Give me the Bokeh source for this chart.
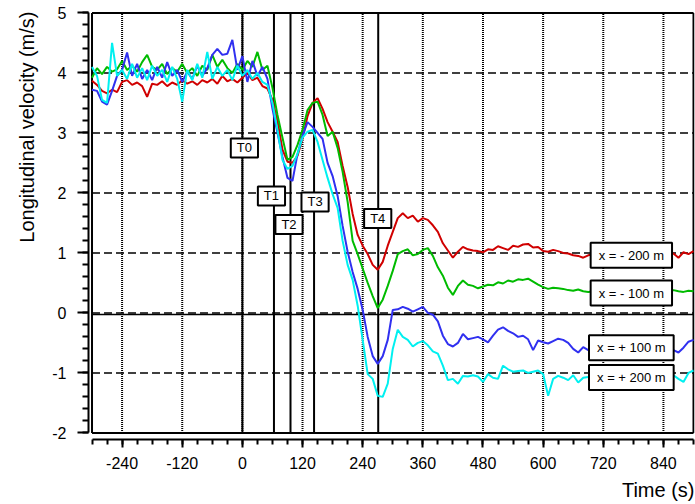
from bokeh.plotting import figure
from bokeh.models import Range1d, FixedTicker, Label, Title
from bokeh.embed import file_html
from bokeh.resources import INLINE

# ---------------- data ----------------
time_s = list(range(-300, 901, 10))

v_minus200 = [
    3.87, 3.80, 3.70, 3.66, 3.72, 3.68, 3.85, 3.88, 3.80, 3.84,
    3.78, 3.60, 3.82, 3.80, 3.86, 3.78, 3.84, 3.80, 3.88, 3.82,
    3.86, 3.80, 3.88, 3.84, 3.90, 3.82, 3.95, 3.86, 3.90, 3.84,
    3.92, 4.00, 3.88, 3.92, 3.78, 3.74, 3.55, 3.20, 2.72, 2.52,
    2.50, 2.62, 2.90, 3.28, 3.50, 3.58, 3.40, 3.18, 3.02, 2.85,
    2.45, 2.10, 1.65, 1.30, 1.12, 0.98, 0.80, 0.72, 0.85, 1.12,
    1.35, 1.58, 1.66, 1.58, 1.62, 1.52, 1.58, 1.55, 1.46, 1.35,
    1.16, 1.04, 0.92, 1.02, 1.10, 1.06, 1.04, 1.03, 1.01, 1.06,
    1.05, 1.11, 1.08, 1.05, 1.12, 1.10, 1.14, 1.15, 1.09, 1.10,
    1.03, 1.02, 1.05, 1.03, 1.00, 0.99, 0.96, 0.95, 0.92, 0.96,
    0.98, 0.97, 1.00, 0.96, 0.99, 0.97, 0.95, 0.98, 1.00, 0.97,
    0.96, 0.99, 0.97, 0.95, 0.98, 0.97, 0.99, 0.92, 1.01, 0.98,
    1.03,
]
v_minus100 = [
    3.92, 4.08, 3.98, 4.10, 4.02, 4.06, 4.20, 4.05, 4.12, 4.02,
    4.18, 4.30, 4.10, 4.05, 4.15, 3.98, 4.08, 4.02, 4.15, 4.00,
    4.08, 3.95, 4.12, 4.05, 4.30, 4.10, 4.22, 4.08, 4.00, 4.15,
    4.05, 4.20, 4.10, 4.35, 4.05, 4.12, 3.75, 3.30, 2.92, 2.55,
    2.60, 2.80, 3.05, 3.38, 3.50, 3.52, 3.30, 2.95, 3.02, 2.75,
    2.35, 1.85, 1.20, 0.98, 0.74, 0.50, 0.28, 0.08, 0.22, 0.45,
    0.70, 0.98, 1.03, 1.06, 0.96, 0.98, 1.05, 1.08, 0.95, 0.76,
    0.62, 0.42, 0.30, 0.45, 0.54, 0.47, 0.45, 0.41, 0.44, 0.47,
    0.46, 0.51, 0.49, 0.54, 0.52, 0.56, 0.55, 0.57, 0.52, 0.47,
    0.43, 0.40, 0.42, 0.41, 0.40, 0.38, 0.37, 0.39, 0.36, 0.35,
    0.36, 0.38, 0.35, 0.37, 0.36, 0.34, 0.37, 0.35, 0.36, 0.38,
    0.35, 0.37, 0.36, 0.34, 0.37, 0.36, 0.38, 0.36, 0.35, 0.37,
    0.36,
]
v_plus100 = [
    3.72, 3.70, 3.52, 3.47, 3.70, 3.95, 4.05, 4.34, 3.95, 4.15,
    3.90, 4.05, 3.88, 4.10, 3.92, 4.18, 3.95, 4.05, 3.85, 4.02,
    3.90, 4.12, 3.95, 4.08, 4.30, 4.40, 4.30, 4.32, 4.55, 4.05,
    4.28, 3.85, 4.20, 3.95, 4.10, 3.90, 3.40, 3.00, 2.60, 2.25,
    2.20, 2.65, 2.95, 3.18, 3.10, 3.00, 2.90, 2.50, 2.28, 1.95,
    1.45, 1.02, 0.68, 0.40, 0.05, -0.40, -0.72, -0.85, -0.72, -0.45,
    0.05, 0.06, 0.10, 0.07, 0.02, 0.06, 0.10, 0.00, -0.03, -0.14,
    -0.38, -0.52, -0.56, -0.50, -0.35, -0.44, -0.42, -0.40, -0.44, -0.49,
    -0.38, -0.28, -0.24, -0.30, -0.34, -0.40, -0.38, -0.44, -0.62, -0.46,
    -0.49, -0.51, -0.47, -0.43, -0.45, -0.50, -0.60, -0.66, -0.57, -0.62,
    -0.60, -0.58, -0.62, -0.59, -0.61, -0.63, -0.60, -0.58, -0.61, -0.62,
    -0.60, -0.59, -0.62, -0.60, -0.58, -0.61, -0.62, -0.66, -0.58, -0.48,
    -0.45,
]
v_plus200 = [
    4.10, 3.95, 3.55, 3.50, 4.50, 3.95, 4.05, 3.90, 4.15, 3.92,
    4.08, 3.88, 4.12, 3.95, 4.05, 3.85, 4.10, 3.90, 3.52, 4.05,
    3.88, 4.15, 3.92, 4.35, 3.90, 4.10, 3.95, 4.05, 3.88, 4.12,
    3.95, 4.05, 3.90, 4.00, 3.85, 3.80, 3.50, 3.05, 2.55, 2.40,
    2.45, 2.65, 2.92, 3.02, 3.05, 2.85, 2.55, 2.25, 1.98, 1.75,
    1.20, 0.80, 0.55, 0.12, -0.45, -1.02, -1.10, -1.38, -1.40, -1.18,
    -0.60, -0.28, -0.40, -0.45, -0.56, -0.50, -0.47, -0.54, -0.64, -0.68,
    -0.88, -1.12, -1.10, -1.18, -1.05, -1.06, -1.04, -1.06, -1.15, -1.02,
    -1.08, -1.10, -0.88, -0.94, -0.98, -0.97, -0.96, -1.00, -0.98, -0.96,
    -1.02, -1.38, -1.10, -1.05, -1.08, -1.12, -1.04, -1.16, -1.08, -1.07,
    -1.05, -1.08, -1.03, -1.06, -1.04, -1.07, -1.05, -1.02, -1.06, -1.04,
    -1.05, -1.03, -1.07, -1.04, -1.06, -1.02, -1.04, -1.10, -1.15, -1.00,
    -0.96,
]

series_names = ["x = - 200 m", "x = - 100 m", "x = + 100 m", "x = + 200 m"]
series_values = [v_minus200, v_minus100, v_plus100, v_plus200]
series_colors = ["#d00000", "#00bb00", "#3030f0", "#00f0f0"]
series_label_x = [776, 776, 776, 776]
series_label_y = [0.96, 0.33, -0.58, -1.075]

event_names = ["T0", "T1", "T2", "T3", "T4"]
event_times = [0, 63, 96, 143, 271]
event_label_x = [4, 58, 93, 145, 270]
event_label_y = [2.75, 1.95, 1.475, 1.85, 1.575]

x_major_ticks = [-240, -120, 0, 120, 240, 360, 480, 600, 720, 840]
x_tick_labels = ["-240", "-120", "0", "120", "240", "360", "480", "600", "720", "840"]
x_minor_ticks = list(range(-300, 901, 30))
y_major_ticks = [-2, -1, 0, 1, 2, 3, 4, 5]
y_tick_labels = ["-2", "-1", "0", "1", "2", "3", "4", "5"]
y_minor_ticks = [round(-2 + 0.2 * i, 1) for i in range(36)]
x_min, x_max = -300, 900
y_min, y_max = -2, 5

FONT = "Liberation Sans"

# ---------------- figure ----------------
p = figure(
    frame_width=606, frame_height=428,
    x_range=Range1d(-307, 902), y_range=Range1d(-2.11, 5.0233),
    output_backend="svg", toolbar_location=None,
    min_border_left=88, min_border_top=11, min_border_right=1, min_border_bottom=50,
)
p.outline_line_color = None
p.grid.visible = False
p.background_fill_color = "white"
p.border_fill_color = "white"

for ax, ticks, labels, minors, bounds, tout, mout in (
    (p.xaxis[0], x_major_ticks, x_tick_labels, x_minor_ticks, (x_min, x_max), 8, 5),
    (p.yaxis[0], y_major_ticks, y_tick_labels, y_minor_ticks, (y_min, y_max), 11, 6),
):
    ax.ticker = FixedTicker(ticks=ticks, minor_ticks=minors)
    ax.major_label_overrides = dict(zip(ticks, labels))
    ax.bounds = bounds
    ax.axis_line_width = 2
    ax.axis_line_color = "black"
    ax.major_tick_in = 0
    ax.major_tick_out = tout
    ax.minor_tick_in = 0
    ax.minor_tick_out = mout
    ax.major_tick_line_width = 2
    ax.minor_tick_line_width = 2
    ax.major_tick_line_color = "black"
    ax.minor_tick_line_color = "black"
    ax.major_label_text_font = FONT
    ax.major_label_text_font_size = "16px"
    ax.major_label_text_color = "black"

p.xaxis.major_label_standoff = 9
p.yaxis.major_label_standoff = 11

# grid lines (dotted verticals, dashed horizontals)
p.segment(x0=x_major_ticks, y0=[y_min] * len(x_major_ticks),
          x1=x_major_ticks, y1=[y_max] * len(x_major_ticks),
          line_color="black", line_width=2, line_dash="1 1")
h_grid = [v for v in y_major_ticks if y_min < v < y_max]
p.segment(x0=[x_min] * len(h_grid), y0=h_grid, x1=[x_max] * len(h_grid), y1=h_grid,
          line_color="black", line_width=1.5, line_dash="8 4")
# solid zero line
p.segment(x0=[x_min], y0=[-0.025], x1=[x_max], y1=[-0.025], line_color="black", line_width=1.5)

# frame box
p.segment(x0=[x_min, x_min, x_min, x_max], y0=[y_min, y_max, y_min, y_min],
          x1=[x_max, x_max, x_min, x_max], y1=[y_min, y_max, y_max, y_max],
          line_color="black", line_width=2)

# event lines
p.segment(x0=event_times, y0=[y_min] * len(event_times),
          x1=event_times, y1=[y_max] * len(event_times),
          line_color="black", line_width=2)

# data
for vals, col in zip(series_values, series_colors):
    p.line(time_s, vals, line_color=col, line_width=2)

# event labels
for name, lx, ly in zip(event_names, event_label_x, event_label_y):
    p.add_layout(Label(x=lx, y=ly, text=name, text_align="center", text_baseline="middle",
                       text_font=FONT, text_font_size="13px", text_color="black",
                       background_fill_color="white", border_line_color="black",
                       border_line_width=2, padding=dict(left=6, right=6, top=2, bottom=2)))

# series labels
for name, lx, ly in zip(series_names, series_label_x, series_label_y):
    p.add_layout(Label(x=lx, y=ly, text=name, text_align="center", text_baseline="middle",
                       text_font=FONT, text_font_size="13px", text_color="black",
                       background_fill_color="white", border_line_color="black",
                       border_line_width=2, padding=dict(left=8, right=8, top=5, bottom=5)))

# axis titles
p.add_layout(Title(text="Longitudinal velocity (m/s)", align="right", text_font=FONT,
                   standoff=24,
                   text_font_size="20px", text_font_style="normal", text_color="black"), "left")
p.add_layout(Title(text="Time (s)", align="right", text_font=FONT,
                   text_font_size="20px", text_font_style="normal", text_color="black"), "below")

open("out.html", "w").write(file_html(p, INLINE))
